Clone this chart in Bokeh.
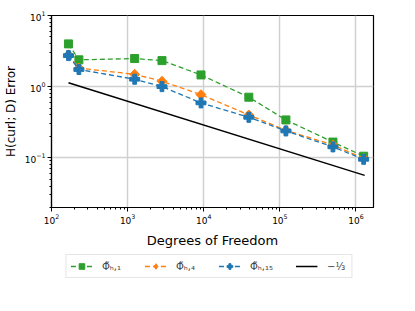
import math
from bokeh.plotting import figure
from bokeh.layouts import column
from bokeh.models import Legend, LegendItem, Range1d
from bokeh.embed import file_html
from bokeh.resources import INLINE

# ---- data ----
dofs = [167, 229, 1237, 2827, 9200, 39100, 120000, 498000, 1260000]
err_phi1 = [3.99, 2.38, 2.48, 2.32, 1.46, 0.71, 0.34, 0.166, 0.105]
err_phi4 = [2.80, 1.82, 1.49, 1.19, 0.77, 0.40, 0.243, 0.151, 0.098]
err_phi15 = [2.73, 1.74, 1.27, 1.00, 0.59, 0.37, 0.238, 0.142, 0.095]
ref_dofs = [167, 1300000]
ref_err = [1.13, 0.0565]
labels = ["Φ̃ₕ,₁", "Φ̃ₕ,₄", "Φ̃ₕ,₁₅", "−⅓"]

FONT = "DejaVu Sans"
green, orange, blue = "#2ca02c", "#ff7f0e", "#1f77b4"

p = figure(frame_width=322, frame_height=192, output_backend="svg", toolbar_location=None,
           x_axis_type="log", y_axis_type="log",
           x_range=Range1d(100, 10 ** 6.23), y_range=Range1d(10 ** -1.70, 10),
           min_border_left=44, min_border_top=15, min_border_right=33,
           min_border_bottom=0)

p.outline_line_color = "black"
p.outline_line_width = 1.2
p.outline_line_alpha = 1.0
p.background_fill_color = "white"
p.border_fill_color = "white"

for ax in (p.xaxis[0], p.yaxis[0]):
    ax.axis_line_color = "black"
    ax.axis_line_width = 1.2
    ax.major_tick_in = 0
    ax.major_tick_out = 4
    ax.minor_tick_in = 0
    ax.minor_tick_out = 2
    ax.major_tick_line_color = "black"
    ax.minor_tick_line_color = "black"
    ax.major_label_text_font = FONT
    ax.major_label_text_font_size = "9px"
    ax.major_label_text_color = "black"
    ax.major_label_standoff = 2
    ax.axis_label_text_font = FONT
    ax.axis_label_text_font_style = "normal"
    ax.axis_label_text_color = "black"

p.xaxis.axis_label = "Degrees of Freedom"
p.xaxis.axis_label_text_font_size = "13px"
p.xaxis.axis_label_standoff = 6
p.yaxis.axis_label = "H(curl; D) Error"
p.yaxis.axis_label_text_font_size = "12px"
p.yaxis.axis_label_standoff = 4

p.grid.grid_line_color = "#d0d0d0"
p.grid.grid_line_width = 1.5

p.line(dofs, err_phi1, line_color=green, line_width=1.3, line_dash="5 3")
p.scatter(dofs, err_phi1, marker="square", size=8, fill_color=green, line_color=green)
p.line(dofs, err_phi4, line_color=orange, line_width=1.3, line_dash="5 3")
p.scatter(dofs, err_phi4, marker="square", angle=math.pi / 4, size=7, fill_color=orange, line_color=orange)
p.line(dofs, err_phi15, line_color=blue, line_width=1.3, line_dash="5 3")
p.scatter(dofs, err_phi15, marker="plus", size=10, fill_color=blue, line_color=blue)
p.line(ref_dofs, ref_err, line_color="black", line_width=1.5)

# ---- legend strip below the plot (proxy glyphs kept outside its ranges) ----
q = figure(width=399, height=36, output_backend="svg", toolbar_location=None,
           x_range=Range1d(0, 1), y_range=Range1d(0, 1),
           x_axis_location=None, y_axis_location=None,
           min_border_left=10, min_border_right=0, min_border_top=4, min_border_bottom=0)
q.outline_line_color = None
q.grid.visible = False
q.border_fill_color = "white"

px, py = [-5, -4], [-5, -4]
k1 = q.line(px, py, line_color=green, line_width=1.3, line_dash="5 3")
n1 = q.scatter(px, py, marker="square", size=8, fill_color=green, line_color=green)
k2 = q.line(px, py, line_color=orange, line_width=1.3, line_dash="5 3")
n2 = q.scatter(px, py, marker="diamond", size=12, fill_color=orange, line_color=orange)
k3 = q.line(px, py, line_color=blue, line_width=1.3, line_dash="5 3")
n3 = q.scatter(px, py, marker="plus", size=10, fill_color=blue, line_color=blue)
k4 = q.line(px, py, line_color="black", line_width=1.5)

legend = Legend(items=[
    LegendItem(label=labels[0], renderers=[k1, n1]),
    LegendItem(label=labels[1], renderers=[k2, n2]),
    LegendItem(label=labels[2], renderers=[k3, n3]),
    LegendItem(label=labels[3], renderers=[k4]),
], orientation="horizontal", location="top_center")
legend.label_text_font = FONT
legend.label_text_font_size = "10px"
legend.glyph_width = 22
legend.glyph_height = 14
legend.label_standoff = 10
legend.spacing = 22
legend.padding = 4
legend.margin = 0
legend.border_line_color = "#cccccc"
legend.border_line_width = 1
legend.background_fill_alpha = 1.0
q.add_layout(legend, "center")

layout = column(p, q, spacing=0)
open("out.html", "w").write(file_html(layout, INLINE))
